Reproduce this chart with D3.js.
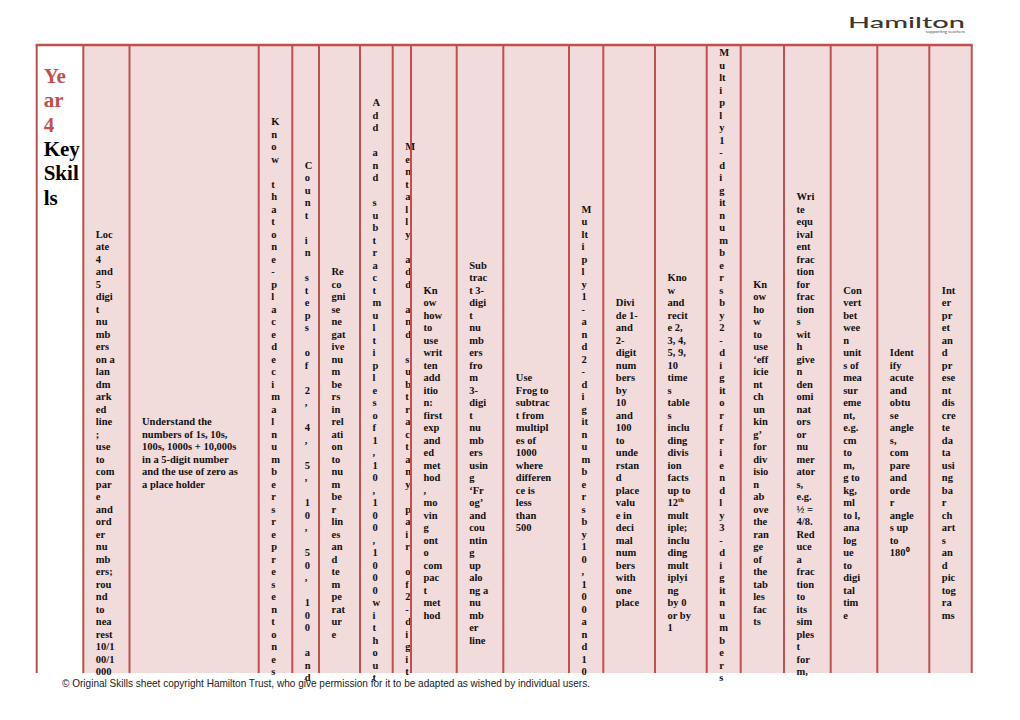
<!DOCTYPE html>
<html>
<head>
<meta charset="utf-8">
<script src="https://cdn.jsdelivr.net/npm/d3@7"></script>
<style>
  html, body { margin: 0; padding: 0; background: #fff; }
  svg { display: block; }
</style>
</head>
<body>
<div id="chart"></div>
<script>
// ---- sheet text, one entry per printed line (the cells wrap very narrowly) ----
const yearTitle = ["Ye", "ar", "4"];
const keySkills = ["Key", "Skil", "ls"];

const locateNumbers = ["Loc","ate","4","and","5","digi","t","nu","mb","ers","on a","lan","dm","ark","ed","line",";","use","to","com","par","e","and","ord","er","nu","mb","ers;","rou","nd","to","nea","rest","10/1","00/1","000"];
const placeValue = ["Understand the","numbers of 1s, 10s,","100s, 1000s + 10,000s","in a 5-digit number","and the use of zero as","a place holder"];
// single character per line, a space gives an empty line
const decimalPlaces = "Know thatone-placedecimalnumbersrepresentones".split("");
const countSteps = "Count in steps of 2, 4, 5, 10, 50, 100 and".split("");
const negativeNumbers = ["Re","co","gni","se","ne","gat","ive","nu","m","be","rs","in","rel","ati","on","to","nu","m","be","r","lin","es","an","d","te","m","pe","rat","ur","e"];
const addSubMultiples = "Add and subtractmultiplesof1,10,100,1000without".split("");
const mentalAddSub = "Mentally add and subtractany pair of2-digit".split("");
const writtenAddition = ["Kn","ow","how","to","use","writ","ten","add","itio","n:","first","exp","and","ed","met","hod",",","mo","vin","g","ont","o","com","pac","t","met","hod"];
const frogSubtract = ["Sub","trac","t 3-","digi","t","nu","mb","ers","fro","m","3-","digi","t","nu","mb","ers","usin","g","\u2018Fr","og\u2019","and","cou","ntin","g","up","alo","ng a","nu","mb","er","line"];
const frogMultiples = ["Use","Frog to","subtrac","t from","multipl","es of","1000","where","differen","ce is","less","than","500"];
const multiplyBy10 = ["M","u","lt","i","p","l","y","1","-","a","n","d","2","-","d","i","g","it","n","u","m","b","e","r","s","b","y","1","0",",","1","0","0","a","n","d","1","0"];
const divideBy10 = ["Divi","de 1-","and","2-","digit","num","bers","by","10","and","100","to","unde","rstan","d","place","valu","e in","deci","mal","num","bers","with","one","place"];
const timesTables = ["Kno","w","and","recit","e 2,","3, 4,","5, 9,","10","time","s","table","s","inclu","ding","divis","ion","facts","up to","12^th","mult","iple;","inclu","ding","mult","iplyi","ng","by 0","or by","1"];
const multiply2Digit = ["M","u","lt","i","p","l","y","1","-","d","i","g","it","n","u","m","b","e","r","s","b","y","2","-","d","i","g","it","o","r","f","r","i","e","n","d","l","y","3","-","d","i","g","it","n","u","m","b","e","r","s"];
const chunking = ["Kn","ow","ho","w","to","use","\u2018eff","icie","nt","ch","un","kin","g\u2019","for","div","isio","n","ab","ove","the","ran","ge","of","the","tab","les","fac","ts"];
const fractions = ["Wri","te","equ","ival","ent","frac","tion","for","frac","tion","s","wit","h","give","n","den","omi","nat","ors","or","nu","mer","ator","s,","e.g.","\u00bd =","4/8.","Red","uce","a","frac","tion","to","its","sim","ples","t","for","m,"];
const measures = ["Con","vert","bet","wee","n","unit","s of","mea","sur","eme","nt,","e.g.","cm","to","m,","g to","kg,","ml","to l,","ana","log","ue","to","digi","tal","tim","e"];
const angles = ["Ident","ify","acute","and","obtu","se","angle","s,","com","pare","and","orde","r","angle","s up","to","180\u2070"];
const dataHandling = ["Int","er","pr","et","an","d","pr","ese","nt","dis","cre","te","da","ta","usi","ng","ba","r","ch","art","s","an","d","pic","tog","ra","ms"];

const skillColumns = [locateNumbers, placeValue, decimalPlaces, countSteps, negativeNumbers,
  addSubMultiples, mentalAddSub, writtenAddition, frogSubtract, frogMultiples, multiplyBy10,
  divideBy10, timesTables, multiply2Digit, chunking, fractions, measures, angles, dataHandling];
// lines of each cell that run on past the bottom of the page
const linesOverPage = [0, 0, 9, 5, 0, 10, 7, 0, 0, 0, 2, 0, 0, 14, 0, 3, 0, 0, 0];

const footerText = "\u00a9 Original Skills sheet copyright Hamilton Trust, who give permission for it to be adapted as wished by individual users.";

// ---- layout ----
const W = 1020, H = 720;
const colEdges = [36.7, 83.3, 129.5, 258.7, 292.3, 319, 360, 392.7, 411, 456.7, 503.3, 569, 603.3, 655, 706.7, 740.7, 784, 830.7, 877.3, 929.3, 971.7];
const table = { top: 45, bottom: 673, middle: 452.75, lineH: 12.5, cut: 681, pad: 12.5 };
const red = "#c0504d", pink = "#f2dbdb";

const svg = d3.select("#chart").append("svg")
  .attr("width", W)
  .attr("height", H);

// cells
svg.append("g")
  .selectAll("rect")
  .data(d3.pairs(colEdges))
  .join("rect")
  .attr("x", d => d[0])
  .attr("y", table.top)
  .attr("width", d => d[1] - d[0])
  .attr("height", table.bottom - table.top)
  .attr("fill", (d, i) => i === 0 ? "#fff" : pink);

// title cell
const title = svg.append("g")
  .attr("font-family", "'Liberation Serif', 'Times New Roman', serif")
  .attr("font-weight", "bold")
  .attr("font-size", 21);
title.selectAll("text")
  .data(yearTitle.concat(keySkills))
  .join("text")
  .attr("x", colEdges[0] + 7)
  .attr("y", (d, i) => 83 + i * 24.3)
  .attr("fill", (d, i) => i < yearTitle.length ? red : "#000")
  .text(d => d);

// skill cells: text centred on the row middle, cut off at the page end
skillColumns.forEach((lines, c) => {
  const n = lines.length + linesOverPage[c];
  const y = d3.scaleLinear()
    .domain([0, n - 1])
    .range([table.middle - (n - 1) * table.lineH / 2, table.middle + (n - 1) * table.lineH / 2]);

  const shown = lines.map((t, i) => ({ t, y: y(i) })).filter(d => d.y < table.cut && d.t !== " ");

  const g = svg.append("g")
    .attr("transform", `translate(${colEdges[c + 1] + table.pad},0)`)
    .attr("font-family", "'Liberation Serif', 'Times New Roman', serif")
    .attr("font-weight", "bold")
    .attr("font-size", 10.5)
    .attr("fill", "#111");

  g.selectAll("text")
    .data(shown)
    .join("text")
    .attr("y", d => d.y + 3.6)
    .each(function(d) {
      const parts = d.t.split("^");
      const el = d3.select(this);
      el.append("tspan").text(parts[0]);
      if (parts[1]) el.append("tspan").attr("font-size", 6.5).attr("dy", -4).text(parts[1]);
    });
});

// borders on top so the overflowing letters sit under them
svg.append("g")
  .selectAll("line")
  .data(colEdges)
  .join("line")
  .attr("x1", d => d)
  .attr("x2", d => d)
  .attr("y1", table.top)
  .attr("y2", table.bottom)
  .attr("stroke", red)
  .attr("stroke-width", 2);

svg.append("line")
  .attr("x1", colEdges[0] - 1)
  .attr("x2", colEdges[colEdges.length - 1] + 1)
  .attr("y1", table.top)
  .attr("y2", table.top)
  .attr("stroke", red)
  .attr("stroke-width", 2.4);

// logo
svg.append("text")
  .attr("x", 848)
  .attr("y", 28)
  .attr("font-family", "Lato, 'DejaVu Sans', sans-serif")
  .attr("font-size", 15.5)
  .attr("font-weight", 500)
  .attr("fill", "#3d3630")
  .attr("textLength", 117)
  .attr("lengthAdjust", "spacingAndGlyphs")
  .text("Hamilton");
svg.append("text")
  .attr("x", 965)
  .attr("y", 33)
  .attr("text-anchor", "end")
  .attr("font-family", "Lato, sans-serif")
  .attr("font-size", 4.5)
  .attr("fill", "#555")
  .text("supporting teachers");

// footer
svg.append("text")
  .attr("x", 62)
  .attr("y", 687)
  .attr("font-family", "'Liberation Sans Narrow', 'Liberation Sans', sans-serif")
  .attr("font-size", 11.5)
  .attr("fill", "#222")
  .attr("textLength", 528)
  .attr("lengthAdjust", "spacingAndGlyphs")
  .text(footerText);
</script>
</body>
</html>
